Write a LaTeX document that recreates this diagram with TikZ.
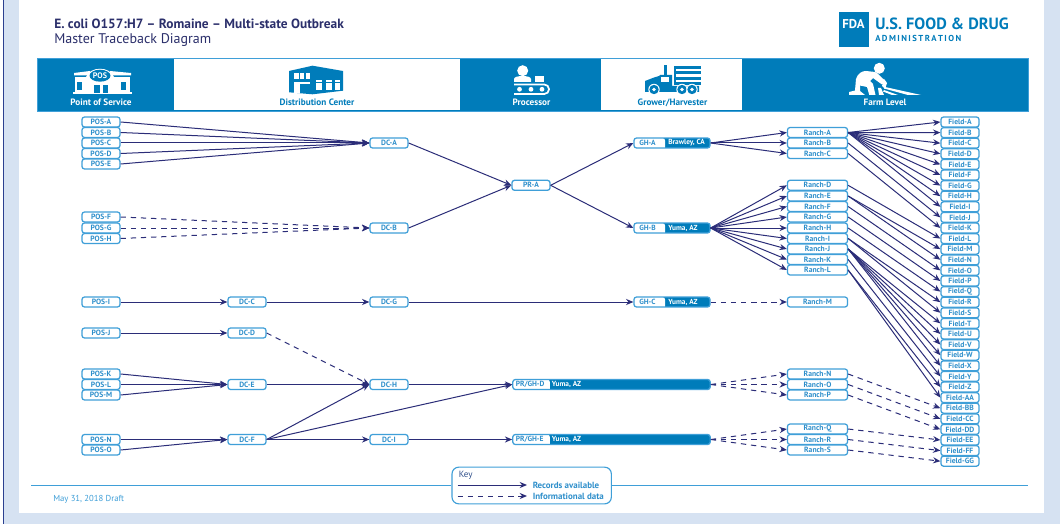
\documentclass[tikz,border=0pt]{standalone}
\usepackage{fontspec}
\setmainfont{PT Sans}
\usetikzlibrary{arrows.meta}
\definecolor{fdablue}{HTML}{007CBA}
\definecolor{edgeblue}{HTML}{3F9FD8}
\definecolor{nodetext}{HTML}{2E8FCB}
\definecolor{navy}{HTML}{2B2D78}
\definecolor{titlenavy}{HTML}{2B2F6B}
\definecolor{pageblue}{HTML}{D6E2F2}
\definecolor{darkline}{HTML}{2B3F8F}
\tikzset{
  unitbox/.style={draw=edgeblue,fill=white,line width=.95pt,rounded corners=1.8pt,inner sep=0pt,
    minimum height=7.4pt,text=nodetext,font=\fontsize{5.7}{5.7}\selectfont\bfseries},
  posbox/.style={unitbox,minimum width=28.5pt},
  ranchbox/.style={unitbox,minimum width=45pt},
  splitbox/.style={unitbox,fill=fdablue,draw=edgeblue},
  idlabel/.style={anchor=west,inner sep=0pt,text=nodetext,font=\fontsize{5.6}{5.6}\selectfont\bfseries},
  loclabel/.style={anchor=west,inner sep=0pt,text=white,font=\fontsize{5.5}{5.5}\selectfont\bfseries},
  conn/.style={draw=navy,line width=.75pt,-{Stealth[length=5.5pt,width=4.6pt]}},
  info/.style={conn,dash pattern=on 4pt off 3.6pt},
  bandlabel/.style={inner sep=0pt,font=\fontsize{6.9}{6.9}\selectfont\bfseries},
  iconw/.style={fill=white,draw=none},
  iconb/.style={fill=fdablue,draw=none},
  keytext/.style={anchor=west,inner sep=0pt,text=nodetext,font=\fontsize{6.7}{6.7}\selectfont\bfseries},
}
\begin{document}
\begin{tikzpicture}[x=0.75pt,y=-0.75pt]
\useasboundingbox (0,0) rectangle (1060,524);
% page
\fill[pageblue] (4,0) rectangle (1060,524);
\fill[white] (19,0) rectangle (1044,513);
\draw[darkline,line width=.8pt] (3.5,0) -- (3.5,524);
% header
\node[anchor=west,inner sep=0pt,text=titlenavy,font=\fontsize{10.05}{10.05}\selectfont\bfseries] (title) at (54,23.5) {E. coli O157:H7 – Romaine – Multi-state Outbreak};
\node[anchor=west,inner sep=0pt,text=titlenavy,font=\fontsize{10.5}{10.5}\selectfont] (subtitle) at (54,40.5) {Master Traceback Diagram};
% logo
\fill[fdablue] (838.5,11.7) rectangle (868.5,46.7);
\node[inner sep=0pt,text=white,font=\fontsize{9.6}{9.6}\selectfont\bfseries] (fda) at (853.5,24) {FDA};
\node[anchor=west,inner sep=0pt,text=fdablue,font=\fontsize{12.2}{12.2}\selectfont\bfseries] (usfood) at (875,23.5) {U.S. FOOD \& DRUG};
\node[anchor=west,inner sep=0pt,text=fdablue,font=\fontsize{6.5}{6.5}\selectfont\bfseries] (admin) at (875,38) {A\,D\,M\,I\,N\,I\,S\,T\,R\,A\,T\,I\,O\,N};
% band
\fill[fdablue] (37.5,58) rectangle (1028,111);
\draw[edgeblue,line width=.7pt] (37.5,58) rectangle (1028,111);
\fill[white] (174,59.5) rectangle (460,110);
\fill[white] (601,59.5) rectangle (742,110);
\node[bandlabel,text=white] (lblpos) at (101,102.5) {Point of Service};
\node[bandlabel,text=fdablue] (lbldc) at (317,102.5) {Distribution Center};
\node[bandlabel,text=white] (lblpr) at (531.5,102.5) {Processor};
\node[bandlabel,text=fdablue] (lblgh) at (672.5,102.5) {Grower/Harvester};
\node[bandlabel,text=white] (lblfarm) at (885,102.5) {Farm Level};
% icon: point of service
\fill[iconw] (73,92) rectangle (132,94.5);
\fill[iconw] (75,77) rectangle (130,92.5);
\fill[iconw] (74,73) -- (90,71) -- (90,75.5) -- (74,75.5) -- cycle;
\fill[iconw] (131,73) -- (110,71) -- (110,75.5) -- (131,75.5) -- cycle;
\fill[iconw] (86,77) .. controls (90,66) and (110,66) .. (114,77) -- cycle;
\fill[iconb] (100,75.7) ellipse (10.5 and 6);
\node[inner sep=0pt,text=white,font=\fontsize{6}{6}\selectfont\bfseries] (iconpos) at (100,75.7) {POS};
\fill[iconb] (77,82) rectangle (82,90);
\fill[iconb] (121,82) rectangle (126,90);
\fill[iconb] (94,85) rectangle (100,93);
\fill[iconb] (103,85) rectangle (108,93);
% icon: distribution centre
\fill[fdablue] (289,71) -- (312.5,65.7) -- (343,71) -- (343,90.7) -- (312.5,94.3) -- (289,92.3) -- cycle;
\fill[white] (294,73.5) rectangle (298.5,79);
\fill[white] (300,73.3) rectangle (304,79);
\fill[white] (305.5,73) rectangle (309.5,79);
\fill[white] (294,82) rectangle (309.5,84);
\fill[white] (294,84) rectangle (300,93);
\foreach \xa/\xb in {316/321.5,326/332,335/340}{
  \fill[white] (\xa,80.3) rectangle (\xb,90);
  \fill[fdablue] (\xa,82) rectangle (\xb,83);
}
% icon: processor
\fill[iconw] (522.7,70.7) circle (5.5);
\fill[iconw] (514,82) -- (514,79) .. controls (514,75) and (531,75) .. (531,79) -- (531,82) -- cycle;
\fill[iconw] (535,76) rectangle (543.5,82);
\draw[white,line width=1.3pt,rounded corners=3.5pt] (514,84.5) -- (549,84.5) -- (549,94) -- (514,94);
\foreach \cx in {519.5,531,542}{\fill[iconw] (\cx,89.3) circle (2.4);}
% icon: truck
\foreach \sy in {66,71.5,77,82.5}{\fill[fdablue] (673.5,\sy) rectangle (700.5,\sy+2.6);}
\fill[fdablue] (673.5,66) rectangle (676,85);
\fill[fdablue] (663.5,65.5) -- (667,65.5) -- (667,76) -- (663.5,76) -- cycle;
\fill[fdablue] (645,92) -- (645,81) -- (654,77.5) -- (659,76) -- (660,75) -- (672,75) -- (672,86) -- (699,86) -- (699,92) -- cycle;
\fill[white] (661,77.5) rectangle (668.5,82);
\foreach \cx in {654,682,692}{\fill[white] (\cx,89.5) circle (5.7);\fill[fdablue] (\cx,89.5) circle (4.7);\fill[white] (\cx,89.5) circle (1.9);}
% icon: farm
\fill[iconw] (879.3,68.3) circle (5.5);
\fill[iconw] (856,79) .. controls (858,73) and (862,71) .. (866,71) -- (875,72) .. controls (877,72.5) and (878,74) .. (880,76) -- (886,81.5) -- (882,84.5) -- (873,78) -- (870,81) -- (873,84) -- (875.5,95) -- (869.3,95) -- (867,87) -- (860,85.5) -- (860,91) -- (865,95) -- (849,95) -- (849,92) -- (855,90.5) -- cycle;
\fill[iconw] (878,88) -- (881,88) -- (884,95) -- (879,95) -- cycle;
\fill[iconw] (885,87) -- (921,95) -- (908,95) -- (884,88.5) -- cycle;
\fill[iconw] (884,90) -- (898,95) -- (892,95) -- (883,91.5) -- cycle;
\fill[iconw] (884,79) -- (887,83) -- (885,89) -- (882,86) -- cycle;
% POS nodes
\foreach \n/\yy in {A/122,B/132.5,C/143,D/153.5,E/164,F/217,G/228,H/238.5,I/302,J/333,K/374,L/384.5,M/395,N/439.5,O/450}
  \node[posbox] (pos-\n) at (101,\yy) {POS-\n};
% DC nodes
\foreach \n/\xx/\yy in {A/389/143,B/389/228,C/247/302,G/389/302,D/247/333,E/247/384.5,H/389/384.5,F/247/439.5,I/389/439.5}
  \node[posbox] (dc-\n) at (\xx,\yy) {DC-\n};
\node[posbox] (pr-A) at (531,185.3) {PR-A};
% split nodes
\foreach \n/\yy/\loc in {A/143/{Brawley, CA},B/228/{Yuma, AZ},C/302/{Yuma, AZ}}{
  \node[splitbox,minimum width=57pt,path picture={\fill[white] (path picture bounding box.north west) rectangle ++(31,12);}] (gh-\n) at (672,\yy) {};
  \node[idlabel] (ghid-\n) at (639,\yy) {GH-\n};
  \node[loclabel] (ghloc-\n) at (668,\yy) {\loc};
}
\foreach \n/\yy in {D/384.5,E/439.5}{
  \node[splitbox,minimum width=148pt,path picture={\fill[white] (path picture bounding box.north west) rectangle ++(37,12);}] (prgh-\n) at (611.5,\yy) {};
  \node[idlabel] (prghid-\n) at (515.5,\yy) {PR/GH-\n};
  \node[loclabel] (prghloc-\n) at (551.5,\yy) {Yuma, AZ};
}
% Ranch nodes
\foreach \n/\yy in {A/132.5,B/143,C/153.5,D/185.3,E/196,F/206.5,G/217,H/228,I/238.5,J/249,K/259.5,L/270,M/302,N/374,O/384.5,P/395,Q/429,R/439.5,S/450}
  \node[ranchbox] (ranch-\n) at (817.5,\yy) {Ranch-\n};
% Field nodes
\foreach \n [count=\i from 0] in {A,B,C,D,E,F,G,H,I,J,K,L,M,N,O,P,Q,R,S,T,U,V,W,X,Y,Z,AA,BB,CC,DD,EE,FF,GG}
  \node[posbox] (field-\n) at (960,{122+10.6*\i}) {Field-\n};
% connectors: records
\foreach \a/\b in {pos-A/dc-A,pos-B/dc-A,pos-C/dc-A,pos-D/dc-A,pos-E/dc-A,
  pos-I/dc-C,pos-J/dc-D,dc-C/dc-G,
  pos-K/dc-E,pos-L/dc-E,pos-M/dc-E,pos-N/dc-F,pos-O/dc-F,
  dc-E/dc-H,dc-F/dc-H,dc-F/dc-I,
  dc-A/pr-A,dc-B/pr-A,pr-A/gh-A,pr-A/gh-B,dc-G/gh-C,
  dc-H/prgh-D,dc-F/prgh-D,dc-I/prgh-E,
  gh-A/ranch-A,gh-A/ranch-B,gh-A/ranch-C,
  gh-B/ranch-D,gh-B/ranch-E,gh-B/ranch-F,gh-B/ranch-G,gh-B/ranch-H,gh-B/ranch-I,gh-B/ranch-J,gh-B/ranch-K,gh-B/ranch-L,
  ranch-A/field-A,ranch-A/field-B,ranch-A/field-C,ranch-A/field-D,ranch-A/field-E,ranch-A/field-F,ranch-A/field-G,ranch-A/field-H,ranch-A/field-I,
  ranch-B/field-J,ranch-C/field-K,ranch-D/field-L,ranch-E/field-M,ranch-E/field-N,ranch-F/field-O,ranch-G/field-P,ranch-H/field-Q,
  ranch-I/field-R,ranch-I/field-S,
  ranch-J/field-T,ranch-J/field-U,ranch-J/field-V,ranch-J/field-W,ranch-J/field-X,ranch-K/field-Y,
  ranch-L/field-Z,ranch-L/field-AA}
  \draw[conn] (\a.east) -- (\b.west);
% connectors: informational
\foreach \a/\b in {pos-F/dc-B,pos-G/dc-B,pos-H/dc-B,dc-D/dc-H,gh-C/ranch-M,
  prgh-D/ranch-N,prgh-D/ranch-O,prgh-D/ranch-P,prgh-E/ranch-Q,prgh-E/ranch-R,prgh-E/ranch-S,
  ranch-N/field-BB,ranch-O/field-CC,ranch-P/field-DD,ranch-Q/field-EE,ranch-R/field-FF,ranch-S/field-GG}
  \draw[info] (\a.east) -- (\b.west);
% footer and key
\coordinate (ruleL) at (31,485.5);
\coordinate (ruleR) at (1028,485.5);
\node[draw=edgeblue,fill=white,line width=.85pt,rounded corners=5pt,minimum width=119.5pt,minimum height=27.5pt,inner sep=0pt] (key) at (531.7,485.5) {};
\draw[edgeblue,line width=.8pt] (ruleL) -- (key.west);
\draw[edgeblue,line width=.8pt] (key.east) -- (ruleR);
\node[anchor=west,inner sep=0pt,text=titlenavy!70!edgeblue,font=\fontsize{6.8}{6.8}\selectfont] (keytitle) at (458.5,475) {Key};
\coordinate (k1a) at (457.5,485);
\coordinate (k1b) at (527,485);
\coordinate (k2a) at (457.5,496);
\coordinate (k2b) at (527,496);
\draw[conn] (k1a) -- (k1b);
\draw[info] (k2a) -- (k2b);
\node[keytext] (keyrec) at (532.5,485) {Records available};
\node[keytext] (keyinf) at (532.5,496) {Informational data};
\node[anchor=west,inner sep=0pt,text=edgeblue,font=\fontsize{6.5}{6.5}\selectfont] (date) at (53,499.5) {May 31, 2018 Draft};
\end{tikzpicture}
\end{document}
